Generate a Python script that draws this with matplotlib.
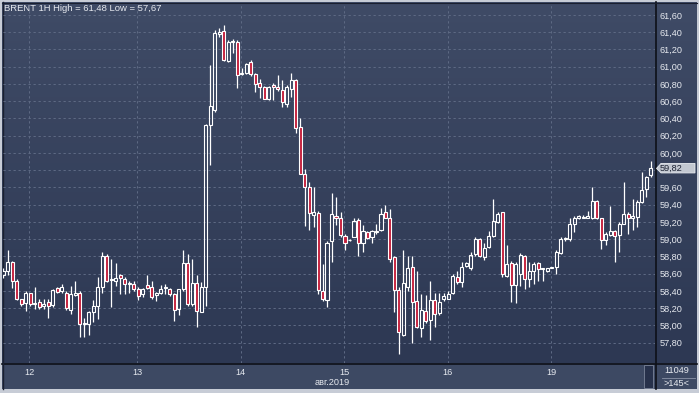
import matplotlib
matplotlib.use('Agg')
import matplotlib.pyplot as plt
import numpy as np
from matplotlib.patches import Rectangle, Polygon
from matplotlib.colors import LinearSegmentedColormap

# ---------------- data (BRENT, 1H candles) ----------------
opens = [58.58, 58.63, 58.73, 58.51, 58.30, 58.26, 58.37, 58.25, 58.27, 58.22,
         58.27, 58.24, 58.43, 58.40, 58.38, 58.18, 58.35, 58.38, 58.01, 58.01,
         58.15, 58.23, 58.44, 58.80, 58.53, 58.51, 58.58, 58.54, 58.48, 58.48,
         58.42, 58.36, 58.47, 58.45, 58.35, 58.38, 58.43, 58.42, 58.36, 58.19,
         58.42, 58.72, 58.25, 58.49, 58.15, 58.45, 60.32, 60.50, 61.38, 61.41,
         61.07, 61.29, 61.29, 60.92, 60.93, 61.05, 60.91, 60.81, 60.77, 60.63,
         60.79, 60.77, 60.73, 60.57, 60.74, 60.85, 60.30, 59.75, 59.60, 59.28,
         59.30, 58.40, 58.29, 58.98, 59.27, 59.25, 59.04, 58.99, 59.03, 59.22,
         58.95, 59.08, 59.03, 59.08, 59.11, 59.31, 59.25, 58.79, 58.41, 57.89,
         58.45, 58.68, 58.28, 57.97, 58.17, 58.06, 58.29, 58.14, 58.30, 58.31,
         58.37, 58.56, 58.50, 58.69, 58.66, 58.83, 59.00, 58.79, 58.91, 59.04,
         59.20, 59.31, 58.57, 58.72, 58.47, 58.60, 58.80, 58.54, 58.63, 58.72,
         58.65, 58.63, 58.67, 58.68, 58.84, 59.00, 59.00, 59.17, 59.25, 59.25,
         59.25, 59.24, 59.44, 59.24, 58.99, 59.05, 59.09, 59.05, 59.18, 59.29,
         59.24, 59.26, 59.43, 59.58, 59.74]
highs = [58.66, 58.87, 58.75, 58.54, 58.31, 58.40, 58.38, 58.44, 58.30, 58.30,
         58.30, 58.42, 58.45, 58.48, 58.40, 58.46, 58.51, 58.40, 58.08, 58.17,
         58.29, 58.56, 58.85, 58.83, 58.77, 58.72, 58.60, 58.56, 58.52, 58.51,
         58.44, 58.43, 58.58, 58.52, 58.39, 58.47, 58.48, 58.43, 58.38, 58.42,
         58.87, 58.83, 58.77, 58.58, 58.50, 60.33, 61.02, 61.43, 61.45, 61.48,
         61.31, 61.32, 61.31, 60.98, 61.04, 61.08, 60.93, 60.86, 60.78, 60.78,
         60.81, 60.90, 60.85, 60.79, 60.93, 60.86, 60.40, 59.81, 59.66, 59.60,
         59.33, 58.71, 58.98, 59.53, 59.49, 59.31, 59.06, 59.00, 59.24, 59.24,
         59.16, 59.10, 59.11, 59.17, 59.36, 59.40, 59.35, 58.81, 58.44, 58.87,
         58.81, 58.80, 58.63, 58.36, 58.35, 58.52, 58.38, 58.38, 58.38, 58.40,
         58.60, 58.63, 58.73, 58.73, 58.85, 59.03, 59.01, 58.95, 59.10, 59.47,
         59.31, 59.32, 58.93, 58.75, 58.73, 58.84, 58.82, 58.73, 58.74, 58.74,
         58.67, 58.67, 58.68, 58.87, 59.02, 59.03, 59.25, 59.27, 59.28, 59.28,
         59.33, 59.60, 59.45, 59.25, 59.08, 59.38, 59.11, 59.20, 59.66, 59.31,
         59.47, 59.45, 59.78, 59.73, 59.91]
lows = [58.55, 58.58, 58.43, 58.29, 58.23, 58.17, 58.23, 58.19, 58.19, 58.19,
        58.08, 58.21, 58.38, 58.37, 58.18, 58.13, 58.34, 57.86, 57.87, 57.89,
        58.04, 58.07, 58.38, 58.50, 58.21, 58.46, 58.36, 58.36, 58.38, 58.40,
        58.29, 58.33, 58.42, 58.31, 58.28, 58.36, 58.36, 58.34, 58.05, 58.12,
        58.40, 58.23, 58.23, 57.98, 58.15, 58.23, 59.86, 60.48, 61.34, 61.07,
        61.06, 61.16, 60.75, 60.90, 60.92, 60.89, 60.71, 60.64, 60.62, 60.61,
        60.61, 60.72, 60.53, 60.53, 60.65, 60.23, 59.75, 59.15, 59.11, 59.14,
        58.36, 58.28, 58.21, 58.74, 59.16, 59.03, 58.87, 58.98, 59.02, 58.80,
        58.85, 59.00, 58.96, 59.06, 59.10, 59.24, 58.73, 58.15, 57.67, 57.88,
        58.40, 57.79, 57.97, 57.86, 58.03, 57.83, 57.98, 58.12, 58.28, 58.30,
        58.36, 58.48, 58.45, 58.68, 58.64, 58.80, 58.79, 58.76, 58.90, 59.02,
        59.19, 58.56, 58.56, 58.27, 58.26, 58.46, 58.42, 58.44, 58.48, 58.52,
        58.52, 58.62, 58.66, 58.60, 58.83, 58.98, 58.98, 59.08, 59.23, 59.24,
        59.24, 59.23, 59.23, 58.89, 58.93, 59.04, 58.73, 58.85, 59.17, 59.06,
        59.11, 59.14, 59.42, 59.49, 59.72]
closes = [58.63, 58.74, 58.52, 58.31, 58.25, 58.38, 58.25, 58.26, 58.21, 58.25,
          58.23, 58.41, 58.39, 58.44, 58.20, 58.36, 58.38, 58.01, 58.03, 58.15,
          58.23, 58.44, 58.80, 58.52, 58.54, 58.55, 58.55, 58.48, 58.49, 58.42,
          58.34, 58.42, 58.43, 58.33, 58.37, 58.42, 58.44, 58.36, 58.18, 58.42,
          58.72, 58.25, 58.49, 58.17, 58.45, 60.32, 60.55, 61.39, 61.40, 61.08,
          61.29, 61.30, 60.90, 60.93, 61.03, 60.92, 60.80, 60.76, 60.63, 60.77,
          60.76, 60.74, 60.59, 60.76, 60.85, 60.29, 59.76, 59.60, 59.30, 59.32,
          58.41, 58.31, 58.96, 59.29, 59.24, 59.05, 58.95, 58.99, 59.21, 58.96,
          59.10, 59.01, 59.09, 59.10, 59.29, 59.25, 58.77, 58.41, 57.92, 58.49,
          58.67, 58.27, 57.98, 58.18, 58.05, 58.29, 58.13, 58.27, 58.34, 58.36,
          58.57, 58.50, 58.68, 58.72, 58.81, 59.00, 58.81, 58.90, 59.04, 59.21,
          59.29, 58.59, 58.71, 58.47, 58.71, 58.82, 58.54, 58.63, 58.71, 58.65,
          58.67, 58.66, 58.68, 58.85, 59.00, 59.01, 59.18, 59.25, 59.27, 59.26,
          59.27, 59.44, 59.24, 58.99, 59.06, 59.09, 59.04, 59.18, 59.29, 59.24,
          59.27, 59.43, 59.57, 59.72, 59.82]

day_labels = ['12', '13', '14', '15', '16', '19']
day_start_index = [6, 30, 53, 76, 99, 122]
price_ticks = [57.8, 58.0, 58.2, 58.4, 58.6, 58.8, 59.0, 59.2, 59.4, 59.6,
               59.8, 60.0, 60.2, 60.4, 60.6, 60.8, 61.0, 61.2, 61.4, 61.6]
title = 'BRENT 1H High = 61,48 Low = 57,67'
month_label = 'авг.2019'
bars_total = '11049'
bars_shown = '>145<'

# ---------------- figure ----------------
W, H = 699, 393
FONT = ['Liberation Sans', 'DejaVu Sans']
TXT = '#e6e9ef'
fig = plt.figure(figsize=(W / 100, H / 100), dpi=100)
fig.patch.set_facecolor('#c7ccd6')

bg = fig.add_axes([0, 0, 1, 1])
bg.set_xlim(0, W)
bg.set_ylim(H, 0)
bg.axis('off')
grad = np.linspace(0, 1, 256).reshape(-1, 1)
cmap = LinearSegmentedColormap.from_list('g', ['#3f4b66', '#2d3853'])
bg.imshow(grad, cmap=cmap, extent=[2, 697, 363, 2], aspect='auto',
          zorder=0, interpolation='bilinear')
bg.add_patch(Rectangle((2, 363), 695, 26, fc='#3d4963', ec='none', zorder=1))
bg.plot([2, 697], [363.5, 363.5], color='#0d1018', lw=1.2, zorder=3)
bg.plot([655.5, 655.5], [2, 389], color='#0d1018', lw=1.2, zorder=3)
bg.plot([2.5, 2.5], [2, 389], color='#1a2030', lw=1.0, zorder=3)
bg.plot([2, 697], [2.5, 2.5], color='#1a2030', lw=0.8, zorder=3)

# scroll thumb and bar counters
bg.add_patch(Rectangle((644, 365), 9, 23, fc='#27314b', ec='#7a8499', lw=0.6, zorder=2))
bg.text(677, 370.5, bars_total, ha='center', va='center', color=TXT,
        fontsize=6.6, family=FONT, zorder=4)
bg.plot([662, 695], [377.5, 377.5], color='#8a93a6', lw=0.6, zorder=4)
bg.text(677, 383.5, bars_shown, ha='center', va='center', color=TXT,
        fontsize=6.6, family=FONT, zorder=4)
bg.text(332, 382.5, month_label, ha='center', va='center', color=TXT,
        fontsize=6.6, family=FONT, zorder=4)
bg.text(4, 8.5, title, ha='left', va='center', color=TXT,
        fontsize=6.8, family=FONT, zorder=4)

# ---------------- candles ----------------
ax = fig.add_axes([3 / W, 30 / H, 652 / W, 360 / H])
ax.set_facecolor('none')
for s in ax.spines.values():
    s.set_visible(False)
ax.set_xlim(-0.07, 144.95)
ax.set_ylim(57.563, 61.739)

grid_kw = dict(color='#5d6983', lw=0.75, ls=(0, (2.2, 2.6)), zorder=1)
for p in price_ticks:
    ax.axhline(p, **grid_kw)
for d in day_start_index:
    ax.axvline(d - 0.2, **grid_kw)

n = len(opens)
xs = np.arange(n)
o = np.array(opens); c = np.array(closes)
hi = np.array(highs); lo = np.array(lows)
top = np.maximum(o, c); bot = np.minimum(o, c)
ax.vlines(xs, top, hi, color='white', lw=0.9, zorder=3)
ax.vlines(xs, lo, bot, color='white', lw=0.9, zorder=3)
bw = 0.68
for i in range(n):
    h = max(top[i] - bot[i], 0.004)
    fc = 'none' if c[i] >= o[i] else '#c41f3c'
    ax.add_patch(Rectangle((xs[i] - bw / 2, bot[i]), bw, h, fc=fc,
                           ec='white', lw=0.8, zorder=4))

ax.set_xticks([d - 0.2 for d in day_start_index])
ax.set_xticklabels(day_labels)
ax.yaxis.tick_right()
ax.set_yticks(price_ticks)
ylabels = [('%.2f' % p).replace('.', ',') for p in price_ticks]
ylabels = ['' if abs(p - closes[-1]) < 0.1 else l for p, l in zip(price_ticks, ylabels)]
ax.set_yticklabels(ylabels)
ax.tick_params(axis='both', length=0, colors=TXT, labelsize=6.6)
ax.tick_params(axis='y', pad=3)
ax.tick_params(axis='x', pad=3.5)
for lab in ax.get_xticklabels() + ax.get_yticklabels():
    lab.set_family(FONT)

# last price marker
last = closes[-1]
fig.canvas.draw()
ypix = bg.transData.inverted().transform(ax.transData.transform((0, last)))[1]
bg.add_patch(Polygon([(656.5, ypix), (661, ypix - 5), (695, ypix - 5),
                      (695, ypix + 4.5), (661, ypix + 4.5)],
                     closed=True, fc='#c3c8d1', ec='#e8ebf0', lw=0.6, zorder=5))
bg.text(660, ypix, ('%.2f' % last).replace('.', ','), ha='left', va='center',
        color='#1c2233', fontsize=6.6, family=FONT, zorder=6)

fig.savefig('out.png', dpi=100, facecolor=fig.get_facecolor())
